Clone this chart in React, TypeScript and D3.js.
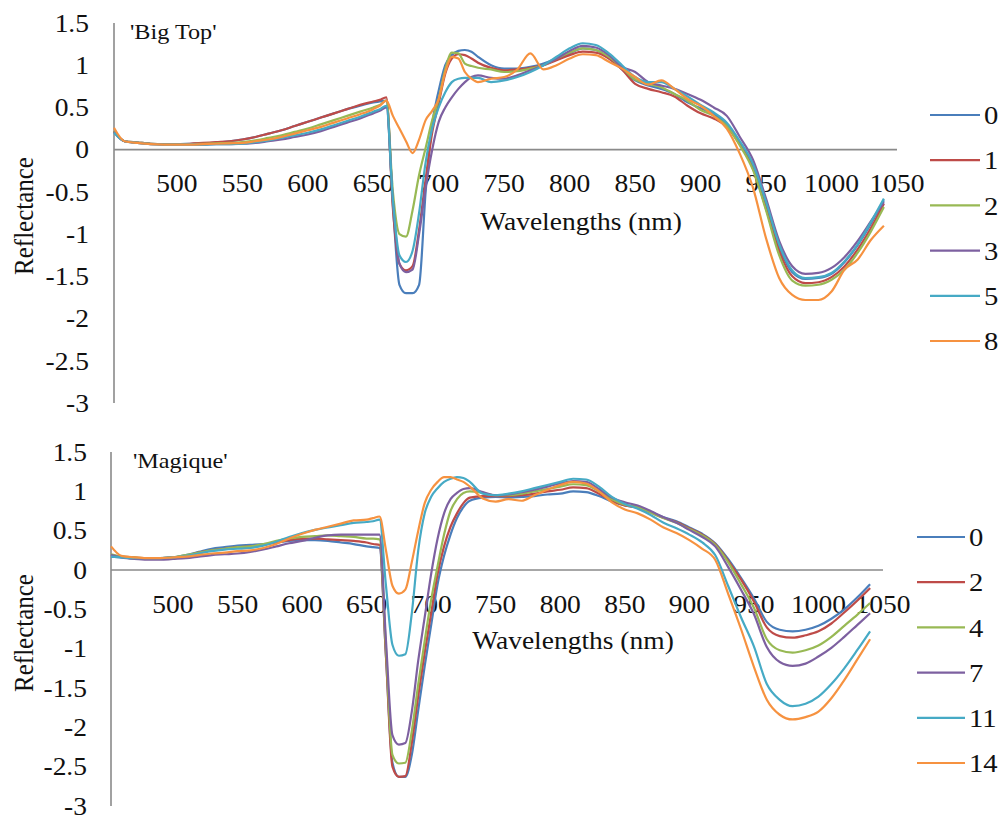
import React from 'react';
import * as d3 from 'd3';

// Wavelength grid shared by every spectrum (nm)
const WAVELENGTHS = [
  452, 460, 470, 480, 490, 500, 510, 520, 530, 540, 550, 560, 570, 580, 590, 600, 610, 620, 630, 640, 650,
  655, 660, 665, 670, 675, 680, 685, 690, 695, 700, 705, 710, 715, 720, 725, 730,
  740, 750, 760, 770, 780, 790, 800, 810, 820, 830, 840, 850, 860, 870, 880, 890, 900, 910, 920, 930,
  940, 950, 960, 970, 980, 990, 1000, 1010, 1020, 1030, 1040,
];

const X_TICKS = [500, 550, 600, 650, 700, 750, 800, 850, 900, 950, 1000, 1050];
const Y_TICKS = [1.5, 1, 0.5, 0, -0.5, -1, -1.5, -2, -2.5, -3];

const SERIES_COLORS = ['#4A7EBB', '#BE4B48', '#98B954', '#7D60A0', '#46AAC5', '#F69240'];

// 'Big Top'
const BIG_TOP_LABELS = ['0', '1', '2', '3', '5', '8'];
const BIG_TOP_0 = [
  0.22, 0.10, 0.085, 0.07, 0.065, 0.065, 0.07, 0.075, 0.085, 0.10, 0.12, 0.15, 0.19, 0.23, 0.28, 0.33, 0.38, 0.43, 0.48, 0.52, 0.56,
  0.57, 0.58, -0.65, -1.6, -1.7, -1.7, -1.6, -0.5, 0.3, 0.7, 1.0, 1.12, 1.17, 1.18, 1.16, 1.1,
  1.0, 0.96, 0.96, 0.98, 1.02, 1.08, 1.14, 1.2, 1.18, 1.08, 0.95, 0.82, 0.76, 0.72, 0.66, 0.56, 0.49, 0.42, 0.3, 0.08,
  -0.2, -0.65, -1.15, -1.45, -1.53, -1.52, -1.47, -1.33, -1.13, -0.88, -0.6,
];
const BIG_TOP_1 = [
  0.22, 0.10, 0.085, 0.07, 0.065, 0.065, 0.07, 0.08, 0.09, 0.10, 0.12, 0.15, 0.19, 0.23, 0.28, 0.33, 0.38, 0.43, 0.48, 0.53, 0.57,
  0.59, 0.62, -0.7, -1.35, -1.43, -1.38, -0.95, -0.35, 0.2, 0.55, 0.9, 1.08, 1.13, 1.12, 1.08, 1.03,
  0.97, 0.94, 0.95, 0.97, 1.0, 1.06, 1.12, 1.16, 1.15, 1.08, 0.95, 0.78, 0.72, 0.68, 0.63, 0.52, 0.43, 0.37, 0.27, 0.06,
  -0.22, -0.7, -1.2, -1.5, -1.58, -1.57, -1.51, -1.38, -1.18, -0.93, -0.64,
];
const BIG_TOP_2 = [
  0.22, 0.10, 0.085, 0.07, 0.065, 0.065, 0.065, 0.07, 0.075, 0.08, 0.09, 0.11, 0.14, 0.17, 0.21, 0.25, 0.30, 0.35, 0.40, 0.45, 0.50,
  0.53, 0.58, -0.5, -1.0, -1.03, -0.72, -0.3, 0.02, 0.35, 0.6, 0.95, 1.15, 1.14, 1.02, 0.99, 0.97,
  0.95, 0.92, 0.93, 0.96, 1.0, 1.08, 1.15, 1.2, 1.18, 1.1, 0.97, 0.83, 0.78, 0.74, 0.66, 0.58, 0.47, 0.40, 0.28, 0.05,
  -0.24, -0.72, -1.25, -1.55, -1.61, -1.6, -1.54, -1.42, -1.22, -0.97, -0.68,
];
const BIG_TOP_3 = [
  0.21, 0.10, 0.08, 0.065, 0.06, 0.06, 0.06, 0.06, 0.065, 0.065, 0.07, 0.08, 0.10, 0.12, 0.15, 0.18, 0.22, 0.27, 0.32, 0.37, 0.43,
  0.46, 0.50, -0.6, -1.35, -1.45, -1.42, -1.0, -0.45, 0.0, 0.33, 0.5, 0.62, 0.72, 0.8, 0.86, 0.88,
  0.85, 0.84, 0.88, 0.94, 1.0, 1.08, 1.17, 1.23, 1.21, 1.12, 0.98, 0.92, 0.8, 0.76, 0.72, 0.66, 0.59, 0.50, 0.40, 0.15,
  -0.12, -0.58, -1.08, -1.38, -1.47, -1.46, -1.4, -1.27, -1.08, -0.85, -0.62,
];
const BIG_TOP_5 = [
  0.20, 0.10, 0.08, 0.065, 0.06, 0.06, 0.06, 0.06, 0.065, 0.065, 0.07, 0.09, 0.11, 0.14, 0.17, 0.20, 0.24, 0.29, 0.34, 0.39, 0.45,
  0.48, 0.52, -0.6, -1.25, -1.33, -1.2, -0.75, -0.15, 0.25, 0.5, 0.68, 0.8, 0.84, 0.85, 0.85, 0.85,
  0.8, 0.82, 0.86, 0.92, 1.0, 1.1, 1.2, 1.26, 1.24, 1.14, 1.0, 0.86, 0.8, 0.8, 0.72, 0.63, 0.53, 0.44, 0.32, 0.1,
  -0.17, -0.62, -1.12, -1.43, -1.52, -1.51, -1.46, -1.32, -1.12, -0.86, -0.58,
];
const BIG_TOP_8 = [
  0.26, 0.10, 0.08, 0.065, 0.06, 0.06, 0.06, 0.065, 0.07, 0.075, 0.08, 0.10, 0.12, 0.15, 0.19, 0.23, 0.27, 0.32, 0.37, 0.42, 0.48,
  0.52, 0.58, 0.4, 0.25, 0.1, -0.04, 0.12, 0.35, 0.46, 0.6, 0.92, 1.1, 1.08, 0.92, 0.84, 0.8,
  0.84, 0.86, 0.95, 1.14, 0.95, 1.0, 1.08, 1.13, 1.12, 1.04, 0.96, 0.86, 0.77, 0.82, 0.72, 0.6, 0.52, 0.40, 0.25, -0.05,
  -0.45, -1.05, -1.52, -1.72, -1.78, -1.78, -1.68, -1.42, -1.3, -1.07, -0.9,
];

// 'Magique'
const MAGIQUE_LABELS = ['0', '2', '4', '7', '11', '14'];
const MAGIQUE_0 = [
  0.17, 0.16, 0.15, 0.15, 0.15, 0.16, 0.19, 0.23, 0.27, 0.29, 0.31, 0.32, 0.33, 0.35, 0.37, 0.38, 0.38, 0.37, 0.35, 0.33, 0.30,
  0.29, 0.28, -1.1, -2.45, -2.63, -2.63, -2.35, -1.78, -1.22, -0.7, -0.18, 0.18, 0.45, 0.66, 0.8, 0.88,
  0.92, 0.93, 0.92, 0.93, 0.94, 0.96, 0.97, 1.0, 0.99, 0.94, 0.87, 0.82, 0.8, 0.74, 0.67, 0.62, 0.54, 0.46, 0.34, 0.14,
  -0.1, -0.36, -0.66, -0.76, -0.78, -0.76, -0.71, -0.62, -0.5, -0.35, -0.18,
];
const MAGIQUE_2 = [
  0.19, 0.17, 0.16, 0.15, 0.15, 0.16, 0.18, 0.22, 0.25, 0.27, 0.29, 0.30, 0.32, 0.35, 0.38, 0.40, 0.40, 0.39, 0.38, 0.37, 0.35,
  0.33, 0.32, -1.1, -2.5, -2.63, -2.62, -2.2, -1.6, -1.05, -0.55, -0.05, 0.3, 0.55, 0.72, 0.85, 0.92,
  0.94, 0.94, 0.94, 0.95, 0.97, 1.0, 1.02, 1.05, 1.04, 0.97, 0.88, 0.82, 0.79, 0.73, 0.66, 0.61, 0.53, 0.45, 0.33, 0.12,
  -0.12, -0.4, -0.73, -0.84, -0.86, -0.83, -0.78, -0.68, -0.54, -0.39, -0.23,
];
const MAGIQUE_4 = [
  0.20, 0.17, 0.16, 0.15, 0.15, 0.16, 0.19, 0.22, 0.25, 0.27, 0.29, 0.30, 0.33, 0.37, 0.40, 0.42, 0.43, 0.44, 0.43, 0.42, 0.40,
  0.40, 0.39, -1.0, -2.35, -2.46, -2.45, -2.05, -1.45, -0.9, -0.38, 0.05, 0.45, 0.75, 0.9, 0.98, 1.0,
  0.98, 0.95, 0.95, 0.97, 1.0, 1.03, 1.06, 1.09, 1.08, 1.0, 0.9, 0.83, 0.8, 0.73, 0.66, 0.6, 0.52, 0.44, 0.32, 0.1,
  -0.18, -0.48, -0.88, -1.02, -1.05, -1.02, -0.96, -0.85, -0.71, -0.57, -0.42,
];
const MAGIQUE_7 = [
  0.19, 0.16, 0.14, 0.13, 0.13, 0.14, 0.15, 0.17, 0.19, 0.20, 0.21, 0.23, 0.26, 0.30, 0.34, 0.37, 0.41, 0.44, 0.45, 0.45, 0.45,
  0.45, 0.45, -0.9, -2.1, -2.22, -2.2, -1.8, -1.15, -0.6, -0.05, 0.4, 0.72, 0.9, 0.98, 1.03, 1.04,
  0.99, 0.95, 0.96, 0.99, 1.02, 1.06, 1.1, 1.13, 1.12, 1.03, 0.92, 0.86, 0.82, 0.75, 0.67, 0.6, 0.51, 0.42, 0.30, 0.04,
  -0.25, -0.56, -0.98, -1.17, -1.22, -1.19, -1.1, -0.99, -0.85, -0.7, -0.55,
];
const MAGIQUE_11 = [
  0.17, 0.16, 0.15, 0.15, 0.15, 0.16, 0.18, 0.21, 0.24, 0.26, 0.27, 0.28, 0.31, 0.36, 0.42, 0.47, 0.51, 0.54, 0.57, 0.60, 0.61,
  0.62, 0.64, -0.2, -0.95, -1.09, -1.07, -0.55, 0.25, 0.72, 0.93, 1.04, 1.12, 1.16, 1.18, 1.17, 1.12,
  0.97, 0.95, 0.97, 1.0, 1.04, 1.08, 1.12, 1.16, 1.15, 1.06, 0.93, 0.84, 0.78, 0.7, 0.6, 0.53, 0.45, 0.35, 0.19, -0.2,
  -0.6, -0.97, -1.45, -1.65, -1.73, -1.7, -1.61, -1.45, -1.25, -1.02, -0.78,
];
const MAGIQUE_14 = [
  0.30, 0.18, 0.16, 0.15, 0.15, 0.16, 0.17, 0.19, 0.21, 0.22, 0.24, 0.25, 0.28, 0.33, 0.40, 0.46, 0.51, 0.55, 0.59, 0.63, 0.64,
  0.66, 0.68, 0.25, -0.2, -0.3, -0.25, 0.1, 0.5, 0.85, 1.02, 1.12, 1.18, 1.18, 1.15, 1.12, 1.06,
  0.91, 0.87, 0.9, 0.88, 0.95, 1.02, 1.08, 1.12, 1.1, 1.0, 0.86, 0.77, 0.72, 0.64, 0.54, 0.47, 0.38, 0.27, 0.13, -0.3,
  -0.75, -1.23, -1.65, -1.84, -1.9, -1.87, -1.8, -1.63, -1.4, -1.14, -0.88,
];

const FONT = 'Liberation Serif, DejaVu Serif, Times New Roman, serif';
const STRETCH = 1.1;

type Panel = {
  title: string;
  labels: string[];
  series: number[][];
  left: number;
  right: number;
  top: number;
  bottom: number;
  titleX: number;
  titleY: number;
  tickRight: number;
  xTickY: number;
  xTitleX: number;
  xTitleY: number;
  yTitleX: number;
  yTitleY: number;
  legendX1: number;
  legendX2: number;
  legendTextX: number;
  legendY0: number;
  legendStep: number;
};

const PANELS: Panel[] = [
  {
    title: "'Big Top'",
    labels: BIG_TOP_LABELS,
    series: [BIG_TOP_0, BIG_TOP_1, BIG_TOP_2, BIG_TOP_3, BIG_TOP_5, BIG_TOP_8],
    left: 114, right: 897, top: 23, bottom: 403,
    titleX: 130, titleY: 39,
    tickRight: 89, xTickY: 192,
    xTitleX: 581, xTitleY: 230,
    yTitleX: 33, yTitleY: 216,
    legendX1: 930, legendX2: 980, legendTextX: 984, legendY0: 115, legendStep: 45.2,
  },
  {
    title: "'Magique'",
    labels: MAGIQUE_LABELS,
    series: [MAGIQUE_0, MAGIQUE_2, MAGIQUE_4, MAGIQUE_7, MAGIQUE_11, MAGIQUE_14],
    left: 111, right: 883, top: 452, bottom: 806,
    titleX: 133, titleY: 468,
    tickRight: 87, xTickY: 613,
    xTitleX: 573, xTitleY: 649,
    yTitleX: 33, yTitleY: 633,
    legendX1: 917, legendX2: 965, legendTextX: 969, legendY0: 537, legendStep: 45.2,
  },
];

function Label({ x, y, size, anchor = 'start', rotate = false, dy, children }: {
  x: number; y: number; size: number; anchor?: string; rotate?: boolean; dy?: string; children: React.ReactNode;
}) {
  return (
    <text
      transform={`translate(${x},${y}) scale(${STRETCH},1)${rotate ? ' rotate(-90)' : ''}`}
      textAnchor={anchor}
      dy={dy}
      style={{ fontFamily: FONT, fontSize: `${size}px`, fill: '#111' }}
    >
      {children}
    </text>
  );
}

function SpectrumPanel({ p }: { p: Panel }) {
  const x = d3.scaleLinear().domain([WAVELENGTHS[0], 1050]).range([p.left, p.right]);
  const y = d3.scaleLinear().domain([-3, 1.5]).range([p.bottom, p.top]);
  const line = d3
    .line<number>()
    .x((_, i) => x(WAVELENGTHS[i]))
    .y((d) => y(d))
    .curve(d3.curveMonotoneX);

  return (
    <g>
      {/* axes */}
      <line x1={p.left} x2={p.left} y1={y(1.5)} y2={y(-3)} stroke="#8a8a8a" strokeWidth={1.6} />
      <line x1={p.left} x2={p.right} y1={y(0)} y2={y(0)} stroke="#8a8a8a" strokeWidth={1.6} />

      {Y_TICKS.map((t) => (
        <Label key={t} x={p.tickRight} y={y(t)} size={25} anchor="end" dy="0.35em">
          {String(t)}
        </Label>
      ))}
      {X_TICKS.map((t) => (
        <Label key={t} x={x(t)} y={p.xTickY} size={25} anchor="middle">
          {String(t)}
        </Label>
      ))}

      <Label x={p.xTitleX} y={p.xTitleY} size={25} anchor="middle">Wavelengths (nm)</Label>
      <Label x={p.yTitleX} y={p.yTitleY} size={25} anchor="middle" rotate>Reflectance</Label>
      <Label x={p.titleX} y={p.titleY} size={22} anchor="start">{p.title}</Label>

      {/* spectra */}
      {p.series.map((s, i) => (
        <path key={i} d={line(s) ?? ''} fill="none" stroke={SERIES_COLORS[i]} strokeWidth={2.2} strokeLinejoin="round" />
      ))}

      {/* legend */}
      {p.labels.map((lab, i) => {
        const ly = p.legendY0 + i * p.legendStep;
        return (
          <g key={lab}>
            <line x1={p.legendX1} x2={p.legendX2} y1={ly} y2={ly} stroke={SERIES_COLORS[i]} strokeWidth={2.2} />
            <Label x={p.legendTextX} y={ly} size={26} anchor="start" dy="0.35em">{lab}</Label>
          </g>
        );
      })}
    </g>
  );
}

export default function App() {
  return (
    <svg
      width={1002}
      height={816}
      viewBox="0 0 1002 816"
      style={{ position: 'absolute', left: 0, top: 0, background: '#fff' }}
    >
      <rect width={1002} height={816} fill="#fff" />
      {PANELS.map((p) => (
        <SpectrumPanel key={p.title} p={p} />
      ))}
    </svg>
  );
}
